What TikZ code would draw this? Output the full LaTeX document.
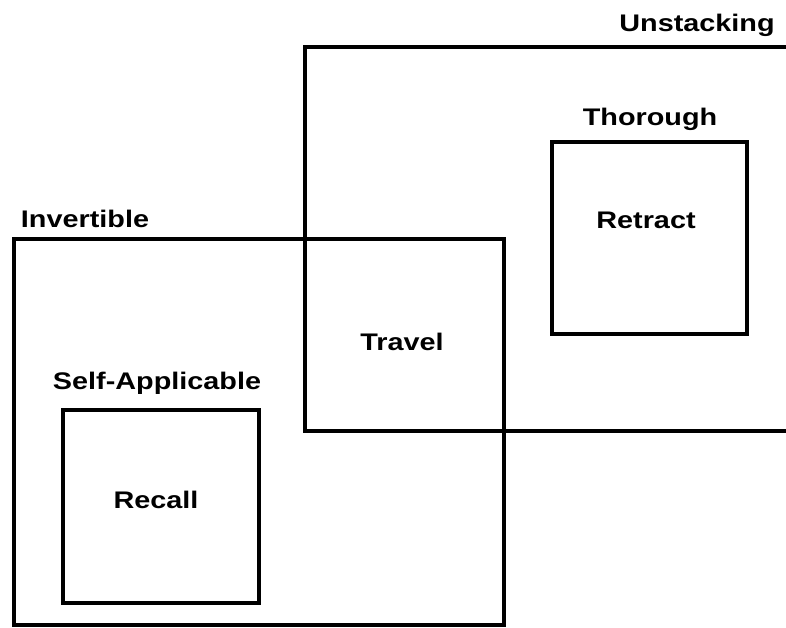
\documentclass[tikz,border=0pt]{standalone}
\usepackage{fontspec}
\setmainfont{Liberation Sans}
\begin{document}
\begin{tikzpicture}[x=1pt,y=-1pt,
  frame/.style={draw=black,line width=3.6pt,line join=miter},
  boxnode/.style={frame,rectangle,inner sep=0pt,anchor=north west},
  lbl/.style={anchor=base,inner sep=0pt,font=\fontsize{24}{28}\selectfont\bfseries,xscale=1.2}]
\useasboundingbox (0,0) rectangle (786,627);
% Unstacking (open to the right edge)
\coordinate (u1) at (786,47);
\coordinate (u2) at (305,47);
\coordinate (u3) at (305,431);
\coordinate (u4) at (786,431);
\draw[frame] (u1) -- (u2) -- (u3) -- (u4);
% Invertible
\node[boxnode,minimum width=490pt,minimum height=386pt] (inv) at (12,237) {};
% Thorough
\node[boxnode,minimum width=195pt,minimum height=192pt] (thor) at (550,140) {};
% Self-Applicable
\node[boxnode,minimum width=196pt,minimum height=193pt] (self) at (61,408) {};
% labels
\node[lbl] (lu) at (697,31) {Unstacking};
\node[lbl] (lt) at (650,125) {Thorough};
\node[lbl] (li) at (85,227) {Invertible};
\node[lbl] (ls) at (157,389) {Self-Applicable};
\node[lbl] (ret) at (646,228) {Retract};
\node[lbl] (trv) at (402,350) {Travel};
\node[lbl] (rec) at (156,508) {Recall};
\end{tikzpicture}
\end{document}
